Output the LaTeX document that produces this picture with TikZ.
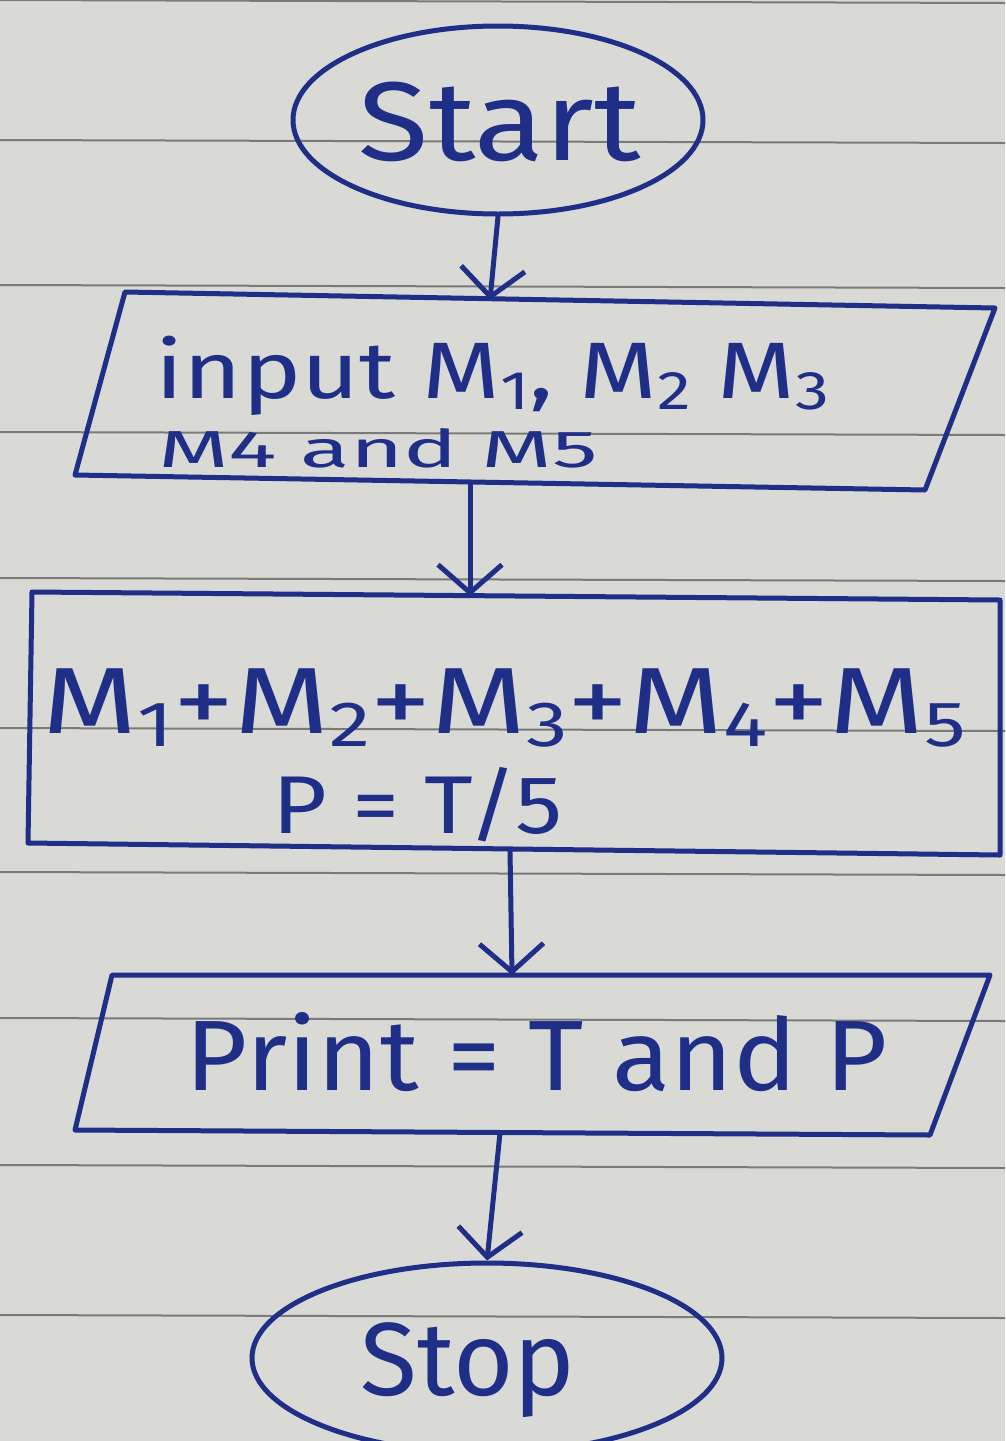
\documentclass[tikz,border=0pt]{standalone}
\usepackage{fontspec}
\setmainfont{Fira Sans}
\usetikzlibrary{shapes.geometric,arrows.meta}
\definecolor{ink}{HTML}{1F2E86}
\definecolor{paper}{HTML}{D9D9D6}
\definecolor{rule}{HTML}{7A7A78}
\newcommand\sbs[1]{\raisebox{-0.14em}{\scalebox{0.68}{#1}}}
\tikzset{
  inkline/.style={draw=ink, line width=5pt, line cap=round, line join=round},
  flow/.style={inkline, -{Straight Barb[length=28pt,width=64pt,line width=5pt]}},
  txt/.style={text=ink, inner sep=0pt, anchor=base}
}
\begin{document}
\begin{tikzpicture}[x=1pt,y=-1pt]
\useasboundingbox (0,0) rectangle (1005,1441);
\fill[paper] (0,0) rectangle (1005,1441);
% ruled lines
\foreach \yy in {0,140,285,432,578,728,872,1018,1165,1315}
  \draw[rule, line width=2pt] (0,\yy) -- (1005,\yy+3);

% Start
\node[ellipse, inkline, minimum width=410pt, minimum height=188pt] (start) at (498,120) {};
\node[txt, font=\fontsize{112}{112}\selectfont] (starttxt) at (500,160) {\scalebox{1.15}[1]{Start}};

% Input parallelogram
\coordinate (i1) at (125,292);
\coordinate (i2) at (995,308);
\coordinate (i3) at (925,490);
\coordinate (i4) at (75,475);
\draw[inkline] (i1) -- (i2) -- (i3) -- (i4) -- cycle;
\coordinate (intop) at (490,300);
\coordinate (inbot) at (470,485);
\node[txt, anchor=base west, font=\fontsize{80}{80}\selectfont] (in1) at (155,398) {\scalebox{1.25}[1]{input M\sbs{1}, M\sbs{2} M\sbs{3}}};
\node[txt, anchor=base west, font=\fontsize{52}{52}\selectfont] (in2) at (158,467) {\scalebox{1.75}[1]{M4 and M5}};

% Process rectangle
\coordinate (p1) at (32,592);
\coordinate (p2) at (1000,600);
\coordinate (p3) at (1000,855);
\coordinate (p4) at (28,843);
\draw[inkline] (p1) -- (p2) -- (p3) -- (p4) -- cycle;
\coordinate (ptop) at (470,596);
\coordinate (pbot) at (510,850);
\node[txt, anchor=base west, font=\fontsize{94}{94}\selectfont] (pr1) at (42,733) {\scalebox{1.3}[1]{M\sbs{1}+M\sbs{2}+M\sbs{3}+M\sbs{4}+M\sbs{5}}};
\node[txt, font=\fontsize{82}{82}\selectfont] (pr2) at (418,833) {\scalebox{1.15}[1]{P = T/5}};

% Print parallelogram
\coordinate (o1) at (112,975);
\coordinate (o2) at (990,975);
\coordinate (o3) at (930,1135);
\coordinate (o4) at (75,1130);
\draw[inkline] (o1) -- (o2) -- (o3) -- (o4) -- cycle;
\coordinate (otop) at (512,975);
\coordinate (obot) at (500,1133);
\node[txt, font=\fontsize{100}{100}\selectfont] (outtxt) at (537,1090) {\scalebox{1.07}[1]{Print = T and P}};

% Stop
\node[ellipse, inkline, minimum width=470pt, minimum height=190pt] (stop) at (487,1358) {};
\node[txt, font=\fontsize{104}{104}\selectfont] (stoptxt) at (468,1395) {Stop};

% connectors
\draw[flow] (start.south) -- (intop);
\draw[flow] (inbot) -- (ptop);
\draw[flow] (pbot) -- (otop);
\draw[flow] (obot) -- (stop.north);
\end{tikzpicture}
\end{document}
